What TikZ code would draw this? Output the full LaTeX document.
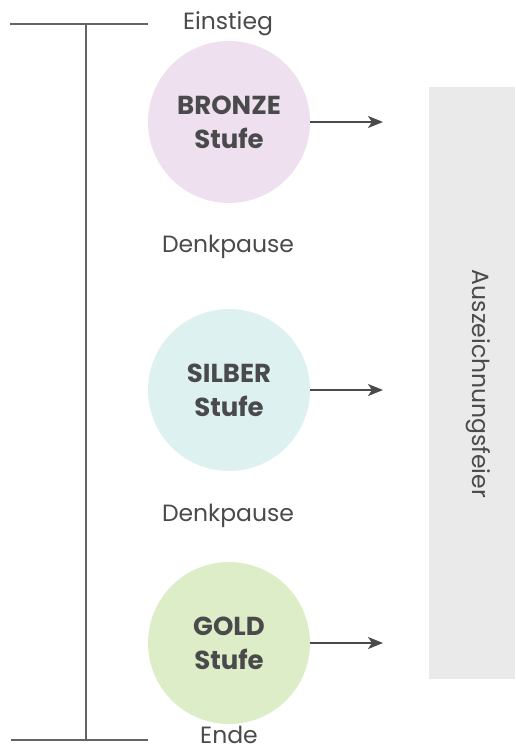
\documentclass[tikz,border=0pt]{standalone}
\usepackage{fontspec}
\setmainfont{Poppins}
\usepackage{xcolor}
\usetikzlibrary{positioning}
\usetikzlibrary{arrows.meta}

\definecolor{bronzecol}{RGB}{238,224,238}
\definecolor{silbercol}{RGB}{222,241,241}
\definecolor{goldcol}{RGB}{221,237,200}
\definecolor{textcol}{RGB}{74,74,76}
\definecolor{linecol}{RGB}{100,100,100}
\definecolor{feiercol}{RGB}{234,234,234}

\tikzset{
    stufe/.style={circle, minimum size=162pt, inner sep=0pt, text=textcol, align=center, font=\fontsize{26}{34}\selectfont\bfseries},
    label/.style={text=textcol, font=\fontsize{23.5}{28}\selectfont},
    pfeil/.style={-{Stealth[length=15pt,width=12pt,inset=4pt]}, line width=2pt, draw=textcol}
}

\begin{document}
\begin{tikzpicture}[x=1pt, y=-1pt]
            \useasboundingbox (0,0) rectangle (515,752);

            % Zeitachse
            \coordinate (top) at (86,24);
            \coordinate (bot) at (86,740);
            \draw[linecol, line width=1.4pt] (10,24) -- (148,24);
            \draw[linecol, line width=1.4pt] (11,740) -- (148,740);
            \draw[linecol, line width=1.4pt] (top) -- (bot);

            % Stufen
            \node[stufe, fill=bronzecol] (Bronze) at (229,122) {BRONZE\\Stufe};
            \node[stufe, fill=silbercol] (Silber) at (229,390) {SILBER\\Stufe};
            \node[stufe, fill=goldcol] (Gold) at (229,643) {GOLD\\Stufe};

            \node[label] (Einstieg) at (228,24) {Einstieg};
            \node[label] (Pause1) at (228,247) {Denkpause};
            \node[label] (Pause2) at (228,516) {Denkpause};
            \node[label, inner sep=1pt] (Ende) at (229,735) {Ende};

            % Auszeichnungsfeier
            \node[fill=feiercol, minimum width=86pt, minimum height=592pt, inner sep=0pt] (Feier) at (472,383) {};
            \node[label, rotate=-90] (FeierText) at (478,384) {Auszeichnungsfeier};

            \coordinate (B1) at (383,122);
            \coordinate (S1) at (383,390);
            \coordinate (G1) at (383,643);
            \draw[pfeil] (Bronze.east) -- (B1);
            \draw[pfeil] (Silber.east) -- (S1);
            \draw[pfeil] (Gold.east) -- (G1);
        \end{tikzpicture}
\end{document}
